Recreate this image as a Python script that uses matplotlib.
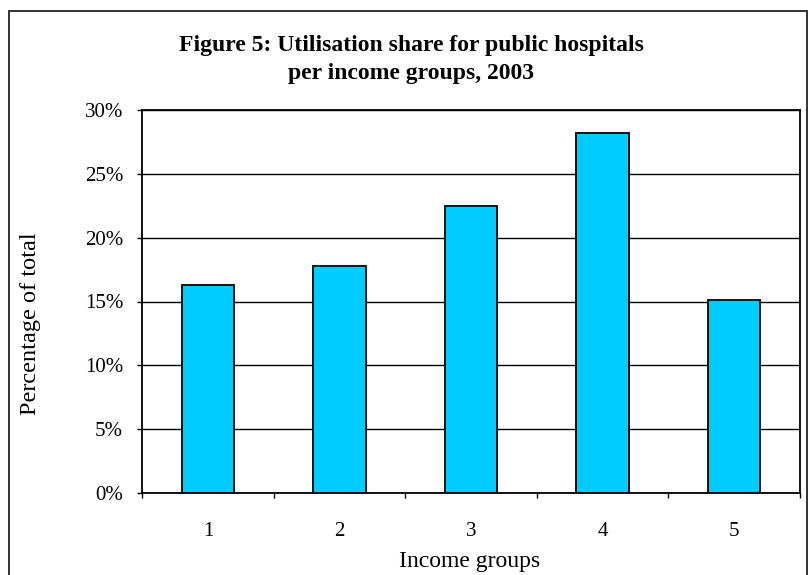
import matplotlib
matplotlib.use("Agg")
import matplotlib.pyplot as plt
from matplotlib.patches import Rectangle
from matplotlib.ticker import FixedLocator, FuncFormatter

# Utilisation share of public hospitals by income group (percent of total)
groups = ["1", "2", "3", "4", "5"]
share = [16.3, 17.8, 22.5, 28.2, 15.1]
yticks = [0, 5, 10, 15, 20, 25, 30]

title = "Figure 5: Utilisation share for public hospitals\nper income groups, 2003"
xlabel = "Income groups"
ylabel = "Percentage of total"

plt.rcParams["font.family"] = ["Liberation Serif", "DejaVu Serif"]

W, H = 808, 575
fig = plt.figure(figsize=(W / 100, H / 100), dpi=100)
fig.patch.set_facecolor("white")

# outer frame of the chart
fig.add_artist(Rectangle((8.5 / W, -0.02), (806.5 - 8.5) / W, 1.02 - 10.7 / H,
                         transform=fig.transFigure, fill=False,
                         edgecolor="#222222", linewidth=1.3))

ax = fig.add_axes([142.3 / W, (H - 493.3) / H, (799.7 - 142.3) / W, 383.6 / H])

x = list(range(1, len(groups) + 1))
ax.bar(x, share, width=0.4, color="#00CCFF", edgecolor="black",
       linewidth=1.3, zorder=3)

ax.set_xlim(0.5, len(groups) + 0.5)
ax.set_ylim(0, 30)
ax.set_yticks(yticks)
ax.yaxis.set_major_formatter(FuncFormatter(lambda v, p: f"{v:.0f}%"))
ax.yaxis.grid(True, color="black", linewidth=1.0, zorder=0)
ax.set_axisbelow(True)

# category labels centred, tick marks on the category boundaries
ax.set_xticks(x)
ax.set_xticklabels(groups)
ax.xaxis.set_minor_locator(FixedLocator([i + 0.5 for i in range(0, len(groups) + 1)]))
ax.tick_params(axis="x", which="major", length=0, pad=21, labelsize=15)
ax.tick_params(axis="x", which="minor", length=3.8, width=1.0, direction="out")
ax.tick_params(axis="y", length=3.8, width=1.0, direction="out", labelsize=15, pad=10)

for s in ax.spines.values():
    s.set_linewidth(1.3)
    s.set_color("black")

fig.text(470 / W, 1 - 561 / H, xlabel, ha="center", va="center", fontsize=17)
fig.text(31 / W, 1 - 324 / H, ylabel, ha="center", va="center",
         rotation=90, fontsize=17.5)

fig.text(411 / W, 1 - 59.5 / H, title, ha="center", va="center",
         fontsize=17, fontweight="bold", linespacing=1.4)

fig.savefig("out.png", dpi=100)
